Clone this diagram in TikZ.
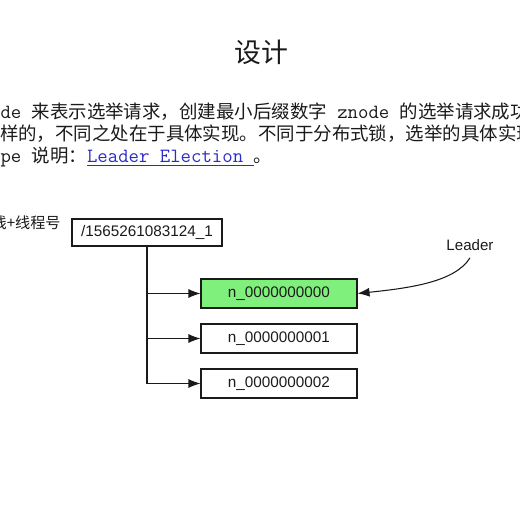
\documentclass[tikz,border=0pt]{standalone}
\usepackage{fontspec}
\setmainfont{Liberation Sans}
\newfontfamily\cjk{Noto Sans CJK SC}
\newfontfamily\monof{Latin Modern Mono}
\definecolor{elInk}{HTML}{1A1A1A}
\definecolor{elGreen}{HTML}{80F07C}
\definecolor{elLink}{HTML}{2B2BC8}
\usetikzlibrary{arrows.meta,positioning}

\begin{document}
\begin{tikzpicture}[
  x=0.02cm,y=-0.02cm,
  line width=0.6pt,
  para/.style={anchor=base west,inner sep=0pt,text=elInk},
  zbox/.style={draw=elInk,line width=0.6pt,minimum height=0.58cm,minimum width=3.12cm,
               inner sep=0pt,font=\fontsize{8.7}{10}\selectfont,text=elInk},
  rootbox/.style={zbox,minimum width=3cm,minimum height=0.54cm},
  >={Latex[length=2.4mm,width=1.8mm]}
]
\useasboundingbox (0,0) rectangle (520,520);
\clip (0,0) rectangle (520,520);

% heading and text
\node[inner sep=0pt,text=elInk] (title) at (261,52) {\cjk\fontsize{15.3}{18}\selectfont 设计};
\node[para] (line1) at (0,119) {\fontsize{10.5}{12}\selectfont
  {\monof\fontsize{11.5}{12}\selectfont de }\cjk 来表示选举请求，创建最小后缀数字{\monof\fontsize{11.5}{12}\selectfont\ znode }\cjk 的选举请求成功};
\node[para] (line2) at (-0.5,141) {\fontsize{10.5}{12}\selectfont
  \cjk 样的，不同之处在于具体实现。不同于分布式锁，选举的具体实现};
\node[para] (line3) at (0,163) {\fontsize{10.5}{12}\selectfont
  {\monof\fontsize{11.5}{12}\selectfont pe }\cjk 说明：\textcolor{elLink}{\underline{\monof\fontsize{11.5}{12}\selectfont Leader Election\ }}\cjk 。};

% znode tree
\node[anchor=base east,inner sep=0pt,text=elInk,font=\fontsize{8.6}{10}\selectfont] (owner) at (61,228)
  {\cjk 线+线程号};
\node[rootbox] (root) at (147,232.5) {/1565261083124\_1};
\node[zbox,fill=elGreen] (n0) at (279,293.5) {n\_0000000000};
\node[zbox] (n1) at (279,338.5) {n\_0000000001};
\node[zbox] (n2) at (279,383.5) {n\_0000000002};
\draw[->,elInk] (root.south) |- (n0.west);
\draw[->,elInk] (root.south) |- (n1.west);
\draw[->,elInk] (root.south) |- (n2.west);

\node[inner sep=1pt,text=elInk,font=\fontsize{8.6}{10}\selectfont] (leader) at (470,245) {Leader};
\draw[->,elInk] ([yshift=-0.1cm]leader.south) .. controls (455,282) and (410,288) .. (n0.east);
\end{tikzpicture}
\end{document}
